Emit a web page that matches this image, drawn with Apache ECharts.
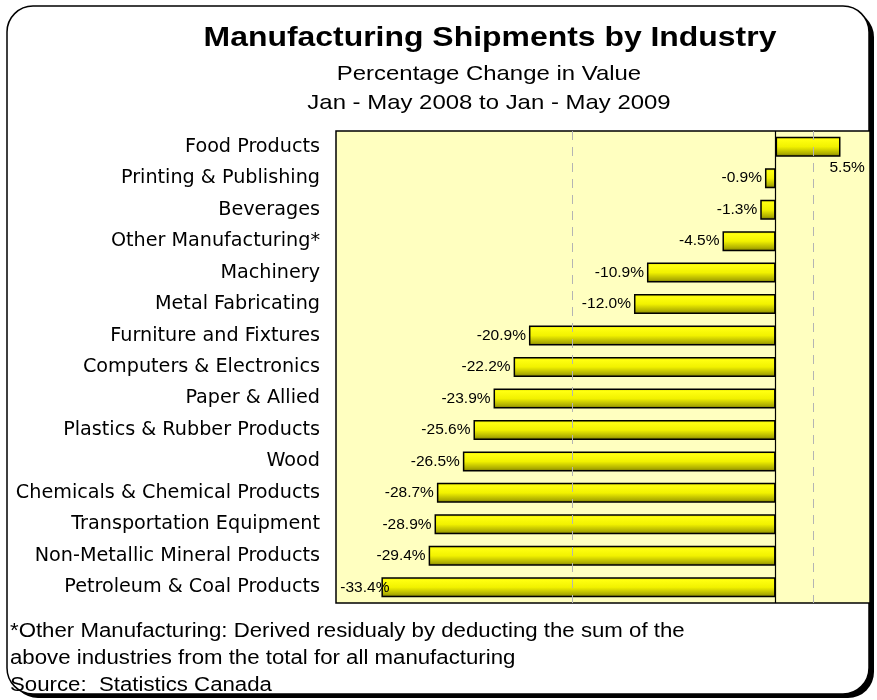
<!DOCTYPE html>
<html>
<head>
<meta charset="utf-8">
<title>Manufacturing Shipments by Industry</title>
<script src="https://cdn.jsdelivr.net/npm/echarts@6/dist/echarts.min.js"></script>
<style>
  html, body { margin: 0; padding: 0; background: #fff; }
  #chart { width: 877px; height: 700px; }
</style>
</head>
<body>
<div id="chart"></div>
<script>
// data, top row first
const industries = [
  'Food Products',
  'Printing & Publishing',
  'Beverages',
  'Other Manufacturing*',
  'Machinery',
  'Metal Fabricating',
  'Furniture and Fixtures',
  'Computers & Electronics',
  'Paper & Allied',
  'Plastics & Rubber Products',
  'Wood',
  'Chemicals & Chemical Products',
  'Transportation Equipment',
  'Non-Metallic Mineral Products',
  'Petroleum & Coal Products'
];
const pctChange = [5.5, -0.9, -1.3, -4.5, -10.9, -12.0, -20.9, -22.2, -23.9, -25.6, -26.5, -28.7, -28.9, -29.4, -33.4];
const gridValues = [-17.2, 3.2];

const titleLines = [
  'Manufacturing Shipments by Industry',
  'Percentage Change in Value',
  'Jan - May 2008 to Jan - May 2009'
];
const footLines = [
  '*Other Manufacturing: Derived residualy by deducting the sum of the',
  'above industries from the total for all manufacturing',
  'Source:  Statistics Canada'
];

const FONT = '"Liberation Sans", Arial, sans-serif';
const WIDE = '"DejaVu Sans", "Liberation Sans", sans-serif';
const STRETCH = 1.14; // text in the original is a bit wider than plain Arial

let chart = echarts.init(document.getElementById('chart'), null, {renderer: 'canvas'});

const barFill = new echarts.graphic.LinearGradient(0, 0, 0, 1, [
  {offset: 0, color: '#dede00'},
  {offset: 0.15, color: '#ffff10'},
  {offset: 0.5, color: '#f2f200'},
  {offset: 0.85, color: '#acac00'},
  {offset: 1, color: '#707000'}
]);

const barData = pctChange.map((v, i) => {
  let item = {value: v};
  if (v > 0) {
    item.label = {position: 'right', offset: [-14, 21]};
  } else if (i === pctChange.length - 1) {
    item.label = {position: 'left', offset: [11, 0]};
  }
  return item;
});

function textEl(t, x, y, font, align) {
  return {
    type  : 'text',
    x     : x,
    y     : y,
    scaleX: STRETCH,
    style : {text: t, font: font, fill: '#000', textAlign: align, textVerticalAlign: 'middle'}
  };
}

let option = {
  animation: false,
  textStyle: {fontFamily: FONT},
  graphic: [
    // frame shadow + frame
    {
      type : 'rect',
      z    : -20,
      shape: {x: 12, y: 11, width: 862, height: 687, r: 26},
      style: {fill: '#000'}
    },
    {
      type : 'rect',
      z    : -19,
      shape: {x: 7, y: 6, width: 862, height: 688, r: 26},
      style: {fill: '#fff', stroke: '#000', lineWidth: 1.5}
    },
    textEl(titleLines[0], 490, 38, 'bold 28px ' + FONT, 'center'),
    textEl(titleLines[1], 489, 74, '21px ' + FONT, 'center'),
    textEl(titleLines[2], 489, 103, '21px ' + FONT, 'center')
  ].concat(footLines.map((t, i) => textEl(t, 10, 632 + i * 27, '19.5px ' + FONT, 'left'))),
  grid: {
    left           : 336,
    right          : 7,
    top            : 131,
    bottom         : 97,
    show           : true,
    backgroundColor: '#ffffc0',
    borderColor    : '#000',
    borderWidth    : 1.5
  },
  xAxis: {
    type     : 'value',
    min      : -37.25,
    max      : 8,
    show     : false,
    splitLine: {show: false}
  },
  yAxis: {
    type     : 'category',
    data     : industries,
    inverse  : true,
    axisLine : {show: false, onZero: false},
    axisTick : {show: false},
    axisLabel: {fontSize: 19.2, color: '#000', margin: 16, fontFamily: WIDE}
  },
  series: [
    {
      type     : 'bar',
      data     : barData,
      barWidth : 20,
      itemStyle: {color: barFill, borderColor: '#000', borderWidth: 1.5},
      label    : {
        show      : true,
        position  : 'left',
        distance  : 3,
        fontSize  : 15.5,
        color     : '#000',
        fontFamily: FONT,
        formatter : p => p.value.toFixed(1) + '%'
      },
      markLine : {
        silent: true,
        symbol: 'none',
        label : {show: false},
        data  : gridValues.map(v => ({
          xAxis: v,
          lineStyle: {color: '#b4b4b4', type: [9, 7], width: 1}
        })).concat([{
          xAxis: 0,
          lineStyle: {color: '#000', type: 'solid', width: 1.2}
        }])
      }
    }
  ]
};

chart.setOption(option);
</script>
</body>
</html>
